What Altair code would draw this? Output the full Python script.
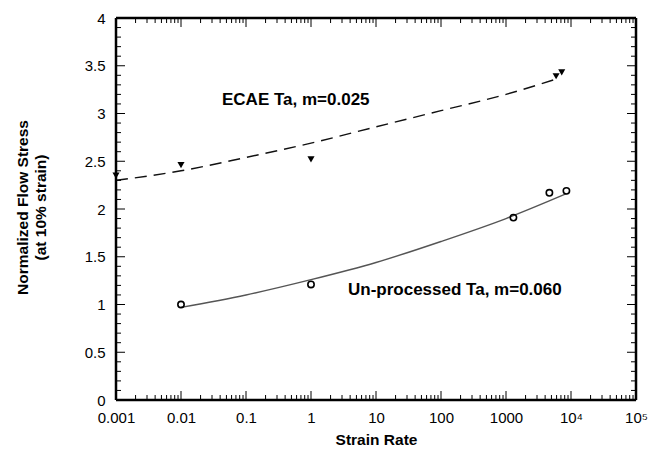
import altair as alt
import pandas as pd

# ---- data ----
ecae_rate = [0.001, 0.01, 1, 5900, 7200]
ecae_stress = [2.35, 2.46, 2.52, 3.39, 3.43]
unproc_rate = [0.01, 1, 1300, 4650, 8500]
unproc_stress = [1.00, 1.21, 1.91, 2.17, 2.19]

ecae_fit_rate = [0.001, 0.01, 0.1, 1, 10, 100, 1000, 6500]
ecae_fit_stress = [2.30, 2.40, 2.54, 2.69, 2.86, 3.03, 3.20, 3.37]
unproc_fit_rate = [0.01, 0.1, 1, 10, 100, 1000, 8500]
unproc_fit_stress = [0.97, 1.10, 1.26, 1.44, 1.66, 1.90, 2.16]

x_ticks = [0.001, 0.01, 0.1, 1, 10, 100, 1000, 10000, 100000]
x_tick_labels = ["0.001", "0.01", "0.1", "1", "10", "100", "1000", "10⁴", "10⁵"]
y_ticks = [0, 0.5, 1, 1.5, 2, 2.5, 3, 3.5, 4]
y_tick_labels = ["0", "0.5", "1", "1.5", "2", "2.5", "3", "3.5", "4"]

W, H = 520, 382
FONT = "Liberation Sans"

x_minor = [k * 10.0 ** d for d in range(-3, 5) for k in range(2, 10)]
y_minor = [round(i * 0.1, 1) for i in range(41) if i % 5 != 0]

ecae = pd.DataFrame({"rate": ecae_rate, "stress": ecae_stress})
unproc = pd.DataFrame({"rate": unproc_rate, "stress": unproc_stress})
ecae_fit = pd.DataFrame({"rate": ecae_fit_rate, "stress": ecae_fit_stress})
unproc_fit = pd.DataFrame({"rate": unproc_fit_rate, "stress": unproc_fit_stress})

xlabel_expr = " : ".join(
    f"datum.value == {v} ? '{l}'" for v, l in zip(x_ticks, x_tick_labels)
) + " : ''"
ylabel_expr = " : ".join(
    f"datum.value == {v} ? '{l}'" for v, l in zip(y_ticks, y_tick_labels)
) + " : ''"

xscale = alt.Scale(type="log", domain=[0.001, 100000], nice=False)
yscale = alt.Scale(domain=[0, 4], nice=False, zero=False)

xaxis = alt.Axis(values=x_ticks, labelExpr=xlabel_expr, ticks=False, domain=False,
                 grid=False, labelPadding=10, labelFontSize=15, labelFont=FONT,
                 labelColor="black", title="Strain Rate", titleFont=FONT,
                 titleFontSize=15.5, titleFontWeight="bold", titlePadding=7,
                 titleColor="black", labelFlush=False, labelOverlap=False)
yaxis = alt.Axis(values=y_ticks, labelExpr=ylabel_expr, ticks=False, domain=False,
                 grid=False, labelPadding=11, labelFontSize=15, labelFont=FONT,
                 labelColor="black", title=["Normalized Flow Stress", "(at 10% strain)"],
                 titleFont=FONT, titleFontSize=15.5, titleFontWeight="bold",
                 titleColor="black", titleX=-86, titleY=H / 2 - 2, titleAlign="center",
                 titleBaseline="bottom", titleLineHeight=18, titleAngle=270,
                 labelFlush=False, labelOverlap=False)

X = alt.X("rate:Q", scale=xscale, axis=xaxis)
Y = alt.Y("stress:Q", scale=yscale, axis=yaxis)

fit_e = alt.Chart(ecae_fit).mark_line(color="#111", strokeWidth=1.4, interpolate="monotone",
                                      strokeDash=[12, 7]).encode(x=X, y=Y)
fit_u = alt.Chart(unproc_fit).mark_line(color="#555", strokeWidth=1.4,
                                        interpolate="monotone").encode(x=X, y=Y)
pts_e = alt.Chart(ecae).mark_point(shape="triangle-down", filled=True, color="black",
                                   size=50, opacity=1).encode(x=X, y=Y)
pts_u = alt.Chart(unproc).mark_point(shape="circle", filled=False, color="black",
                                     size=40, strokeWidth=1.6, opacity=1).encode(x=X, y=Y)

# inward ticks on all four sides
xt_major = pd.DataFrame({"rate": x_ticks})
xt_minor = pd.DataFrame({"rate": x_minor})
yt_major = pd.DataFrame({"stress": y_ticks})
yt_minor = pd.DataFrame({"stress": y_minor})

def xticks(df, length):
    b = alt.Chart(df).mark_rule(color="black", strokeWidth=1).encode(
        x=X, y=alt.value(H), y2=alt.value(H - length))
    t = alt.Chart(df).mark_rule(color="black", strokeWidth=1).encode(
        x=X, y=alt.value(0), y2=alt.value(length))
    return [b, t]

def yticks(df, length):
    l = alt.Chart(df).mark_rule(color="black", strokeWidth=1).encode(
        y=Y, x=alt.value(0), x2=alt.value(length))
    r = alt.Chart(df).mark_rule(color="black", strokeWidth=1).encode(
        y=Y, x=alt.value(W), x2=alt.value(W - length))
    return [l, r]

label_e = alt.Chart(pd.DataFrame({"t": ["ECAE Ta, m=0.025"]})).mark_text(
    font=FONT, fontSize=17, fontWeight="bold", align="left", baseline="middle",
    color="black").encode(text="t:N", x=alt.value(106), y=alt.value(82))
label_u = alt.Chart(pd.DataFrame({"t": ["Un-processed Ta, m=0.060"]})).mark_text(
    font=FONT, fontSize=17, fontWeight="bold", align="left", baseline="middle",
    color="black").encode(text="t:N", x=alt.value(232), y=alt.value(272))

# frame drawn as rules so it is solid black and thick
frame = [
    alt.Chart(pd.DataFrame({"k": [0]})).mark_rule(color="black", strokeWidth=2.5).encode(
        x=alt.value(0), x2=alt.value(W), y=alt.value(0)),
    alt.Chart(pd.DataFrame({"k": [0]})).mark_rule(color="black", strokeWidth=2.5).encode(
        x=alt.value(0), x2=alt.value(W), y=alt.value(H)),
    alt.Chart(pd.DataFrame({"k": [0]})).mark_rule(color="black", strokeWidth=2.5).encode(
        y=alt.value(0), y2=alt.value(H), x=alt.value(0)),
    alt.Chart(pd.DataFrame({"k": [0]})).mark_rule(color="black", strokeWidth=2.5).encode(
        y=alt.value(0), y2=alt.value(H), x=alt.value(W)),
]

layers = [fit_e, fit_u, pts_e, pts_u] + xticks(xt_major, 9) + xticks(xt_minor, 5) \
    + yticks(yt_major, 9) + yticks(yt_minor, 5) + frame + [label_e, label_u]

chart = alt.layer(*layers).properties(
    width=W, height=H,
    autosize=alt.AutoSizeParams(type="none"),
    padding={"left": 108, "top": 10, "right": 16, "bottom": 55},
).configure_view(stroke=None).configure(background="white")

chart.save("out.html", embed_options={"renderer": "svg", "actions": False})
